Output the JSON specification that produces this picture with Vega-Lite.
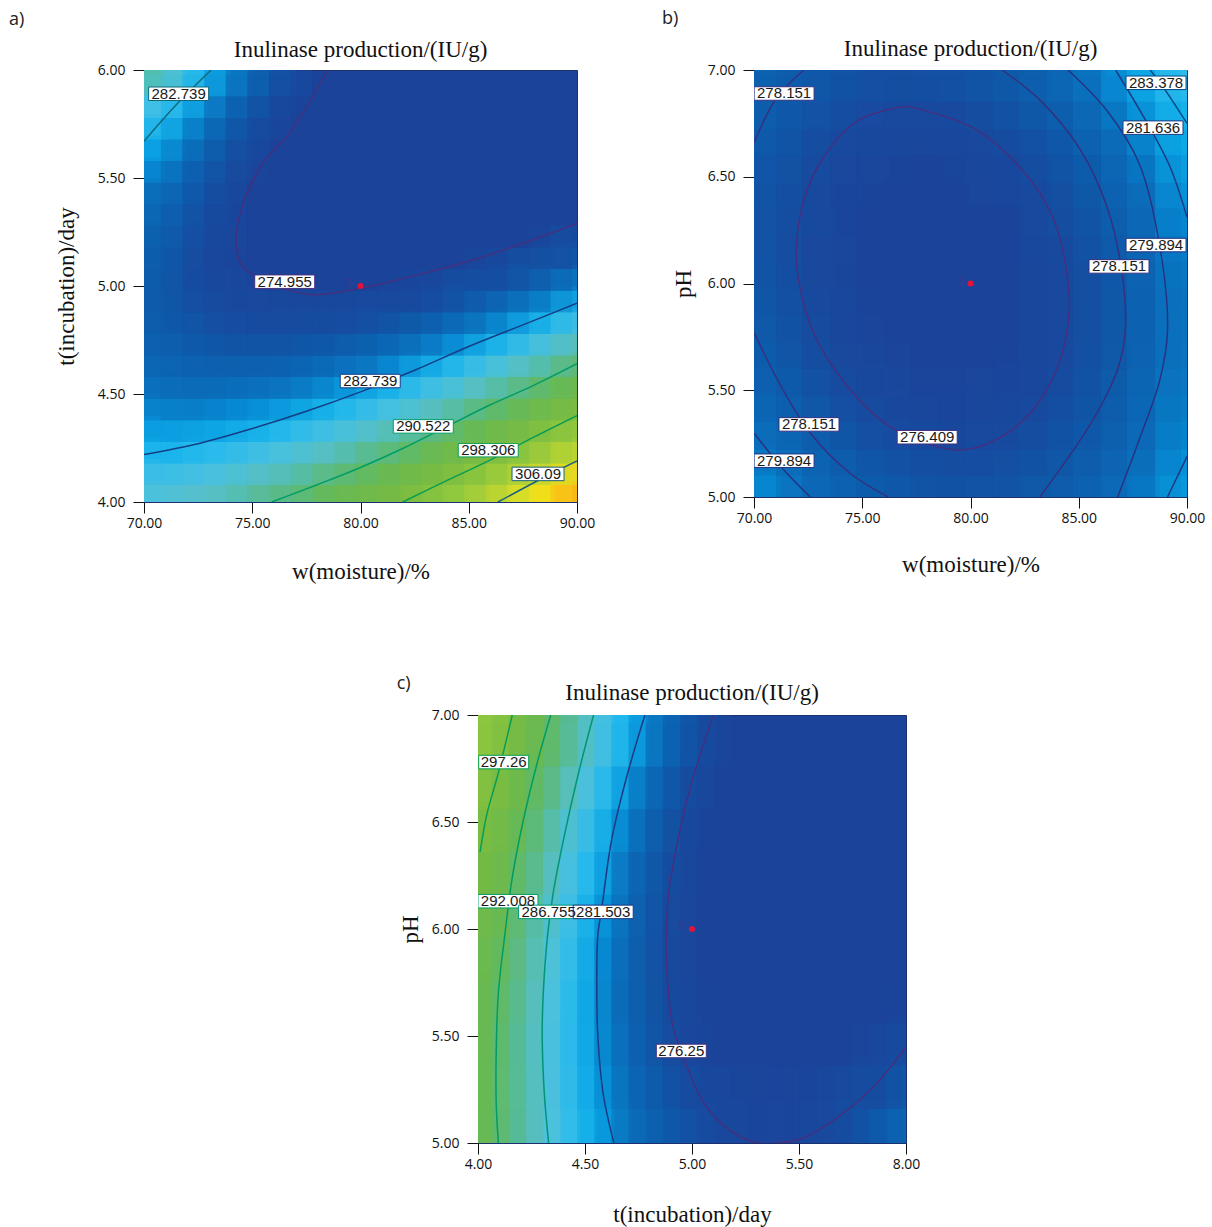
{"$schema":"https://vega.github.io/schema/vega-lite/v6.json","background":"white","padding":{"left":8,"top":9,"right":0,"bottom":0},"config":{"view":{"fill":"#1b4399","stroke":"#1c2f6e"},"axis":{"grid":false,"labelFont":"Open Sans","labelFontSize":14,"labelColor":"#111","labelPadding":3,"labelFlush":false,"tickColor":"#111","tickSize":11,"domainColor":"#1c2f6e","format":".2f","titleFont":"Liberation Serif","titleFontSize":23,"titleFontWeight":"normal","titleColor":"#111"},"axisY":{"labelPadding":8},"title":{"font":"Liberation Serif","fontSize":23,"fontWeight":"normal","color":"#111"}},
"datasets":{
"heatA":[
{"x":70.5,"y":4.05,"z":285.7},{"x":71.5,"y":4.05,"z":286.2},{"x":72.5,"y":4.05,"z":286.7},{"x":73.5,"y":4.05,"z":287.3},{"x":74.5,"y":4.05,"z":288.1},{"x":75.5,"y":4.05,"z":288.9},{"x":76.5,"y":4.05,"z":289.8},{"x":77.5,"y":4.05,"z":290.8},{"x":78.5,"y":4.05,"z":292},{"x":79.5,"y":4.05,"z":293.2},{"x":80.5,"y":4.05,"z":294.5},{"x":81.5,"y":4.05,"z":295.9},{"x":82.5,"y":4.05,"z":297.4},{"x":83.5,"y":4.05,"z":299},{"x":84.5,"y":4.05,"z":300.7},{"x":85.5,"y":4.05,"z":302.5},{"x":86.5,"y":4.05,"z":304.5},{"x":87.5,"y":4.05,"z":306.5},{"x":88.5,"y":4.05,"z":308.6},{"x":89.5,"y":4.05,"z":310.8},
{"x":70.5,"y":4.15,"z":284.1},{"x":71.5,"y":4.15,"z":284.4},{"x":72.5,"y":4.15,"z":284.8},{"x":73.5,"y":4.15,"z":285.3},{"x":74.5,"y":4.15,"z":285.9},{"x":75.5,"y":4.15,"z":286.6},{"x":76.5,"y":4.15,"z":287.4},{"x":77.5,"y":4.15,"z":288.3},{"x":78.5,"y":4.15,"z":289.3},{"x":79.5,"y":4.15,"z":290.4},{"x":80.5,"y":4.15,"z":291.6},{"x":81.5,"y":4.15,"z":292.9},{"x":82.5,"y":4.15,"z":294.3},{"x":83.5,"y":4.15,"z":295.8},{"x":84.5,"y":4.15,"z":297.4},{"x":85.5,"y":4.15,"z":299},{"x":86.5,"y":4.15,"z":300.8},{"x":87.5,"y":4.15,"z":302.7},{"x":88.5,"y":4.15,"z":304.7},{"x":89.5,"y":4.15,"z":306.7},
{"x":70.5,"y":4.25,"z":282.7},{"x":71.5,"y":4.25,"z":282.9},{"x":72.5,"y":4.25,"z":283.2},{"x":73.5,"y":4.25,"z":283.5},{"x":74.5,"y":4.25,"z":284},{"x":75.5,"y":4.25,"z":284.6},{"x":76.5,"y":4.25,"z":285.3},{"x":77.5,"y":4.25,"z":286},{"x":78.5,"y":4.25,"z":286.9},{"x":79.5,"y":4.25,"z":287.9},{"x":80.5,"y":4.25,"z":288.9},{"x":81.5,"y":4.25,"z":290.1},{"x":82.5,"y":4.25,"z":291.4},{"x":83.5,"y":4.25,"z":292.7},{"x":84.5,"y":4.25,"z":294.2},{"x":85.5,"y":4.25,"z":295.7},{"x":86.5,"y":4.25,"z":297.4},{"x":87.5,"y":4.25,"z":299.1},{"x":88.5,"y":4.25,"z":301},{"x":89.5,"y":4.25,"z":302.9},
{"x":70.5,"y":4.35,"z":281.4},{"x":71.5,"y":4.35,"z":281.5},{"x":72.5,"y":4.35,"z":281.7},{"x":73.5,"y":4.35,"z":281.9},{"x":74.5,"y":4.35,"z":282.3},{"x":75.5,"y":4.35,"z":282.7},{"x":76.5,"y":4.35,"z":283.3},{"x":77.5,"y":4.35,"z":283.9},{"x":78.5,"y":4.35,"z":284.6},{"x":79.5,"y":4.35,"z":285.5},{"x":80.5,"y":4.35,"z":286.4},{"x":81.5,"y":4.35,"z":287.5},{"x":82.5,"y":4.35,"z":288.6},{"x":83.5,"y":4.35,"z":289.8},{"x":84.5,"y":4.35,"z":291.2},{"x":85.5,"y":4.35,"z":292.6},{"x":86.5,"y":4.35,"z":294.1},{"x":87.5,"y":4.35,"z":295.7},{"x":88.5,"y":4.35,"z":297.5},{"x":89.5,"y":4.35,"z":299.3},
{"x":70.5,"y":4.45,"z":280.4},{"x":71.5,"y":4.45,"z":280.3},{"x":72.5,"y":4.45,"z":280.3},{"x":73.5,"y":4.45,"z":280.5},{"x":74.5,"y":4.45,"z":280.7},{"x":75.5,"y":4.45,"z":281},{"x":76.5,"y":4.45,"z":281.4},{"x":77.5,"y":4.45,"z":282},{"x":78.5,"y":4.45,"z":282.6},{"x":79.5,"y":4.45,"z":283.3},{"x":80.5,"y":4.45,"z":284.1},{"x":81.5,"y":4.45,"z":285},{"x":82.5,"y":4.45,"z":286},{"x":83.5,"y":4.45,"z":287.1},{"x":84.5,"y":4.45,"z":288.3},{"x":85.5,"y":4.45,"z":289.6},{"x":86.5,"y":4.45,"z":291},{"x":87.5,"y":4.45,"z":292.5},{"x":88.5,"y":4.45,"z":294.1},{"x":89.5,"y":4.45,"z":295.8},
{"x":70.5,"y":4.55,"z":279.5},{"x":71.5,"y":4.55,"z":279.3},{"x":72.5,"y":4.55,"z":279.2},{"x":73.5,"y":4.55,"z":279.2},{"x":74.5,"y":4.55,"z":279.3},{"x":75.5,"y":4.55,"z":279.5},{"x":76.5,"y":4.55,"z":279.8},{"x":77.5,"y":4.55,"z":280.2},{"x":78.5,"y":4.55,"z":280.7},{"x":79.5,"y":4.55,"z":281.3},{"x":80.5,"y":4.55,"z":282},{"x":81.5,"y":4.55,"z":282.8},{"x":82.5,"y":4.55,"z":283.7},{"x":83.5,"y":4.55,"z":284.6},{"x":84.5,"y":4.55,"z":285.7},{"x":85.5,"y":4.55,"z":286.9},{"x":86.5,"y":4.55,"z":288.2},{"x":87.5,"y":4.55,"z":289.5},{"x":88.5,"y":4.55,"z":291},{"x":89.5,"y":4.55,"z":292.6},
{"x":70.5,"y":4.65,"z":278.8},{"x":71.5,"y":4.65,"z":278.5},{"x":72.5,"y":4.65,"z":278.3},{"x":73.5,"y":4.65,"z":278.2},{"x":74.5,"y":4.65,"z":278.1},{"x":75.5,"y":4.65,"z":278.2},{"x":76.5,"y":4.65,"z":278.4},{"x":77.5,"y":4.65,"z":278.7},{"x":78.5,"y":4.65,"z":279},{"x":79.5,"y":4.65,"z":279.5},{"x":80.5,"y":4.65,"z":280},{"x":81.5,"y":4.65,"z":280.7},{"x":82.5,"y":4.65,"z":281.5},{"x":83.5,"y":4.65,"z":282.3},{"x":84.5,"y":4.65,"z":283.3},{"x":85.5,"y":4.65,"z":284.3},{"x":86.5,"y":4.65,"z":285.5},{"x":87.5,"y":4.65,"z":286.7},{"x":88.5,"y":4.65,"z":288},{"x":89.5,"y":4.65,"z":289.5},
{"x":70.5,"y":4.75,"z":278.3},{"x":71.5,"y":4.75,"z":277.9},{"x":72.5,"y":4.75,"z":277.5},{"x":73.5,"y":4.75,"z":277.3},{"x":74.5,"y":4.75,"z":277.1},{"x":75.5,"y":4.75,"z":277.1},{"x":76.5,"y":4.75,"z":277.1},{"x":77.5,"y":4.75,"z":277.3},{"x":78.5,"y":4.75,"z":277.5},{"x":79.5,"y":4.75,"z":277.8},{"x":80.5,"y":4.75,"z":278.3},{"x":81.5,"y":4.75,"z":278.8},{"x":82.5,"y":4.75,"z":279.4},{"x":83.5,"y":4.75,"z":280.2},{"x":84.5,"y":4.75,"z":281},{"x":85.5,"y":4.75,"z":281.9},{"x":86.5,"y":4.75,"z":282.9},{"x":87.5,"y":4.75,"z":284.1},{"x":88.5,"y":4.75,"z":285.3},{"x":89.5,"y":4.75,"z":286.6},
{"x":70.5,"y":4.85,"z":278},{"x":71.5,"y":4.85,"z":277.5},{"x":72.5,"y":4.85,"z":277},{"x":73.5,"y":4.85,"z":276.6},{"x":74.5,"y":4.85,"z":276.3},{"x":75.5,"y":4.85,"z":276.1},{"x":76.5,"y":4.85,"z":276.1},{"x":77.5,"y":4.85,"z":276.1},{"x":78.5,"y":4.85,"z":276.2},{"x":79.5,"y":4.85,"z":276.4},{"x":80.5,"y":4.85,"z":276.7},{"x":81.5,"y":4.85,"z":277.1},{"x":82.5,"y":4.85,"z":277.6},{"x":83.5,"y":4.85,"z":278.2},{"x":84.5,"y":4.85,"z":278.9},{"x":85.5,"y":4.85,"z":279.7},{"x":86.5,"y":4.85,"z":280.6},{"x":87.5,"y":4.85,"z":281.6},{"x":88.5,"y":4.85,"z":282.7},{"x":89.5,"y":4.85,"z":283.9},
{"x":70.5,"y":4.95,"z":277.9},{"x":71.5,"y":4.95,"z":277.2},{"x":72.5,"y":4.95,"z":276.6},{"x":73.5,"y":4.95,"z":276.1},{"x":74.5,"y":4.95,"z":275.7},{"x":81.5,"y":4.95,"z":275.6},{"x":82.5,"y":4.95,"z":276},{"x":83.5,"y":4.95,"z":276.4},{"x":84.5,"y":4.95,"z":277},{"x":85.5,"y":4.95,"z":277.7},{"x":86.5,"y":4.95,"z":278.5},{"x":87.5,"y":4.95,"z":279.3},{"x":88.5,"y":4.95,"z":280.3},{"x":89.5,"y":4.95,"z":281.4},
{"x":70.5,"y":5.05,"z":278},{"x":71.5,"y":5.05,"z":277.1},{"x":72.5,"y":5.05,"z":276.4},{"x":73.5,"y":5.05,"z":275.8},{"x":85.5,"y":5.05,"z":275.9},{"x":86.5,"y":5.05,"z":276.5},{"x":87.5,"y":5.05,"z":277.2},{"x":88.5,"y":5.05,"z":278.1},{"x":89.5,"y":5.05,"z":279},
{"x":70.5,"y":5.15,"z":278.2},{"x":71.5,"y":5.15,"z":277.3},{"x":72.5,"y":5.15,"z":276.4},{"x":73.5,"y":5.15,"z":275.6},{"x":88.5,"y":5.15,"z":276.1},{"x":89.5,"y":5.15,"z":276.9},
{"x":70.5,"y":5.25,"z":278.6},{"x":71.5,"y":5.25,"z":277.6},{"x":72.5,"y":5.25,"z":276.6},{"x":73.5,"y":5.25,"z":275.7},
{"x":70.5,"y":5.35,"z":279.2},{"x":71.5,"y":5.35,"z":278},{"x":72.5,"y":5.35,"z":276.9},{"x":73.5,"y":5.35,"z":275.9},
{"x":70.5,"y":5.45,"z":280},{"x":71.5,"y":5.45,"z":278.7},{"x":72.5,"y":5.45,"z":277.5},{"x":73.5,"y":5.45,"z":276.3},
{"x":70.5,"y":5.55,"z":281},{"x":71.5,"y":5.55,"z":279.6},{"x":72.5,"y":5.55,"z":278.2},{"x":73.5,"y":5.55,"z":277},{"x":74.5,"y":5.55,"z":275.8},
{"x":70.5,"y":5.65,"z":282.2},{"x":71.5,"y":5.65,"z":280.6},{"x":72.5,"y":5.65,"z":279.2},{"x":73.5,"y":5.65,"z":277.8},{"x":74.5,"y":5.65,"z":276.5},
{"x":70.5,"y":5.75,"z":283.6},{"x":71.5,"y":5.75,"z":281.9},{"x":72.5,"y":5.75,"z":280.3},{"x":73.5,"y":5.75,"z":278.8},{"x":74.5,"y":5.75,"z":277.3},{"x":75.5,"y":5.75,"z":276},
{"x":70.5,"y":5.85,"z":285.1},{"x":71.5,"y":5.85,"z":283.3},{"x":72.5,"y":5.85,"z":281.6},{"x":73.5,"y":5.85,"z":279.9},{"x":74.5,"y":5.85,"z":278.4},{"x":75.5,"y":5.85,"z":276.9},{"x":76.5,"y":5.85,"z":275.6},
{"x":70.5,"y":5.95,"z":288},{"x":71.5,"y":5.95,"z":285.5},{"x":72.5,"y":5.95,"z":283},{"x":73.5,"y":5.95,"z":281.3},{"x":74.5,"y":5.95,"z":279.6},{"x":75.5,"y":5.95,"z":278},{"x":76.5,"y":5.95,"z":276.6}
],
"lineA":[
{"seg":"a1","level":274.955,"x":78.5,"y":6},{"seg":"a1","level":274.955,"x":76.74,"y":5.71},{"seg":"a1","level":274.955,"x":75.5,"y":5.57},{"seg":"a1","level":274.955,"x":74.57,"y":5.38},{"seg":"a1","level":274.955,"x":74.25,"y":5.2},{"seg":"a1","level":274.955,"x":74.57,"y":5.09},{"seg":"a1","level":274.955,"x":76.4,"y":4.99},{"seg":"a1","level":274.955,"x":77.8,"y":4.96},{"seg":"a1","level":274.955,"x":80,"y":4.99},{"seg":"a1","level":274.955,"x":82.15,"y":5.04},{"seg":"a1","level":274.955,"x":85.5,"y":5.13},{"seg":"a1","level":274.955,"x":90,"y":5.29},
{"seg":"a2","level":285,"x":73.1,"y":6},{"seg":"a2","level":285,"x":71.5,"y":5.84},{"seg":"a2","level":285,"x":70,"y":5.67},
{"seg":"a3","level":282.739,"x":70,"y":4.22},{"seg":"a3","level":282.739,"x":72.5,"y":4.27},{"seg":"a3","level":282.739,"x":75,"y":4.34},{"seg":"a3","level":282.739,"x":77.5,"y":4.42},{"seg":"a3","level":282.739,"x":80,"y":4.51},{"seg":"a3","level":282.739,"x":82.5,"y":4.61},{"seg":"a3","level":282.739,"x":85,"y":4.72},{"seg":"a3","level":282.739,"x":87.5,"y":4.82},{"seg":"a3","level":282.739,"x":90,"y":4.92},
{"seg":"a4","level":290.522,"x":75.9,"y":4},{"seg":"a4","level":290.522,"x":78,"y":4.08},{"seg":"a4","level":290.522,"x":80,"y":4.16},{"seg":"a4","level":290.522,"x":82,"y":4.25},{"seg":"a4","level":290.522,"x":84,"y":4.35},{"seg":"a4","level":290.522,"x":86,"y":4.45},{"seg":"a4","level":290.522,"x":88,"y":4.54},{"seg":"a4","level":290.522,"x":90,"y":4.64},
{"seg":"a5","level":298.306,"x":81.95,"y":4},{"seg":"a5","level":298.306,"x":84,"y":4.1},{"seg":"a5","level":298.306,"x":86.1,"y":4.2},{"seg":"a5","level":298.306,"x":88,"y":4.3},{"seg":"a5","level":298.306,"x":90,"y":4.4},
{"seg":"a6","level":306.09,"x":86.35,"y":4},{"seg":"a6","level":306.09,"x":88.4,"y":4.11},{"seg":"a6","level":306.09,"x":90,"y":4.19}
],
"labelA":[{"t":"282.739","x":71.6,"y":5.89,"level":285},{"t":"274.955","x":76.5,"y":5.02,"level":274.955},{"t":"282.739","x":80.45,"y":4.56,"level":282.739},{"t":"290.522","x":82.9,"y":4.35,"level":290.522},{"t":"298.306","x":85.9,"y":4.24,"level":298.306},{"t":"306.09","x":88.2,"y":4.13,"level":306.09}],
"centerA":[{"x":80,"y":5}],
"noteA":[{"t":"a)","x":63.76,"y":6.23,"s":"letter"},{"t":"5","x":79.5,"y":5.01,"s":"count"}],
"heatB":[
{"x":70.6,"y":5.06,"z":280.8},{"x":71.9,"y":5.06,"z":279.85},{"x":73.1,"y":5.06,"z":279},{"x":74.4,"y":5.06,"z":278.4},{"x":75.6,"y":5.06,"z":277.8},{"x":76.9,"y":5.06,"z":277.5},{"x":78.1,"y":5.06,"z":277.2},{"x":79.4,"y":5.06,"z":277.1},{"x":80.6,"y":5.06,"z":277.2},{"x":81.9,"y":5.06,"z":277.3},{"x":83.1,"y":5.06,"z":277.7},{"x":84.4,"y":5.06,"z":278.1},{"x":85.6,"y":5.06,"z":278.7},{"x":86.9,"y":5.06,"z":279.5},{"x":88.1,"y":5.06,"z":280.4},{"x":89.4,"y":5.06,"z":281.4},
{"x":70.6,"y":5.19,"z":280.05},{"x":71.9,"y":5.19,"z":279.1},{"x":73.1,"y":5.19,"z":278.3},{"x":74.4,"y":5.19,"z":277.7},{"x":75.6,"y":5.19,"z":277.2},{"x":76.9,"y":5.19,"z":276.8},{"x":78.1,"y":5.19,"z":276.6},{"x":79.4,"y":5.19,"z":276.5},{"x":80.6,"y":5.19,"z":276.6},{"x":81.9,"y":5.19,"z":276.8},{"x":83.1,"y":5.19,"z":277.1},{"x":84.4,"y":5.19,"z":277.6},{"x":85.6,"y":5.19,"z":278.2},{"x":86.9,"y":5.19,"z":279},{"x":88.1,"y":5.19,"z":279.9},{"x":89.4,"y":5.19,"z":281},
{"x":70.6,"y":5.31,"z":279.4},{"x":71.9,"y":5.31,"z":278.5},{"x":73.1,"y":5.31,"z":277.7},{"x":74.4,"y":5.31,"z":277.1},{"x":75.6,"y":5.31,"z":276.6},{"x":76.9,"y":5.31,"z":276.3},{"x":78.1,"y":5.31,"z":276.05},{"x":79.4,"y":5.31,"z":276},{"x":80.6,"y":5.31,"z":276.1},{"x":81.9,"y":5.31,"z":276.3},{"x":83.1,"y":5.31,"z":276.7},{"x":84.4,"y":5.31,"z":277.2},{"x":85.6,"y":5.31,"z":277.8},{"x":86.9,"y":5.31,"z":278.6},{"x":88.1,"y":5.31,"z":279.55},{"x":89.4,"y":5.31,"z":280.6},
{"x":70.6,"y":5.44,"z":278.8},{"x":71.9,"y":5.44,"z":277.9},{"x":73.1,"y":5.44,"z":277.2},{"x":74.4,"y":5.44,"z":276.6},{"x":75.6,"y":5.44,"z":276.1},{"x":76.9,"y":5.44,"z":275.8},{"x":78.1,"y":5.44,"z":275.6},{"x":79.4,"y":5.44,"z":275.6},{"x":80.6,"y":5.44,"z":275.7},{"x":81.9,"y":5.44,"z":275.9},{"x":83.1,"y":5.44,"z":276.3},{"x":84.4,"y":5.44,"z":276.8},{"x":85.6,"y":5.44,"z":277.5},{"x":86.9,"y":5.44,"z":278.3},{"x":88.1,"y":5.44,"z":279.3},{"x":89.4,"y":5.44,"z":280.4},
{"x":70.6,"y":5.56,"z":278.3},{"x":71.9,"y":5.56,"z":277.5},{"x":73.1,"y":5.56,"z":276.7},{"x":74.4,"y":5.56,"z":276.2},{"x":75.6,"y":5.56,"z":275.7},{"x":81.9,"y":5.56,"z":275.6},{"x":83.1,"y":5.56,"z":276},{"x":84.4,"y":5.56,"z":276.6},{"x":85.6,"y":5.56,"z":277.25},{"x":86.9,"y":5.56,"z":278.1},{"x":88.1,"y":5.56,"z":279.1},{"x":89.4,"y":5.56,"z":280.2},
{"x":70.6,"y":5.69,"z":277.9},{"x":71.9,"y":5.69,"z":277.1},{"x":73.1,"y":5.69,"z":276.4},{"x":74.4,"y":5.69,"z":275.8},{"x":83.1,"y":5.69,"z":275.8},{"x":84.4,"y":5.69,"z":276.4},{"x":85.6,"y":5.69,"z":277.1},{"x":86.9,"y":5.69,"z":277.9},{"x":88.1,"y":5.69,"z":278.9},{"x":89.4,"y":5.69,"z":280.1},
{"x":70.6,"y":5.81,"z":277.6},{"x":71.9,"y":5.81,"z":276.8},{"x":73.1,"y":5.81,"z":276.1},{"x":74.4,"y":5.81,"z":275.6},{"x":83.1,"y":5.81,"z":275.7},{"x":84.4,"y":5.81,"z":276.3},{"x":85.6,"y":5.81,"z":277},{"x":86.9,"y":5.81,"z":277.9},{"x":88.1,"y":5.81,"z":278.9},{"x":89.4,"y":5.81,"z":280.1},
{"x":70.6,"y":5.94,"z":277.4},{"x":71.9,"y":5.94,"z":276.6},{"x":73.1,"y":5.94,"z":275.9},{"x":83.1,"y":5.94,"z":275.7},{"x":84.4,"y":5.94,"z":276.3},{"x":85.6,"y":5.94,"z":277},{"x":86.9,"y":5.94,"z":277.9},{"x":88.1,"y":5.94,"z":279},{"x":89.4,"y":5.94,"z":280.1},
{"x":70.6,"y":6.06,"z":277.2},{"x":71.9,"y":6.06,"z":276.5},{"x":73.1,"y":6.06,"z":275.8},{"x":83.1,"y":6.06,"z":275.7},{"x":84.4,"y":6.06,"z":276.4},{"x":85.6,"y":6.06,"z":277.1},{"x":86.9,"y":6.06,"z":278},{"x":88.1,"y":6.06,"z":279.1},{"x":89.4,"y":6.06,"z":280.3},
{"x":70.6,"y":6.19,"z":277.2},{"x":71.9,"y":6.19,"z":276.4},{"x":73.1,"y":6.19,"z":275.8},{"x":83.1,"y":6.19,"z":275.9},{"x":84.4,"y":6.19,"z":276.5},{"x":85.6,"y":6.19,"z":277.3},{"x":86.9,"y":6.19,"z":278.25},{"x":88.1,"y":6.19,"z":279.3},{"x":89.4,"y":6.19,"z":280.5},
{"x":70.6,"y":6.31,"z":277.2},{"x":71.9,"y":6.31,"z":276.5},{"x":73.1,"y":6.31,"z":275.9},{"x":83.1,"y":6.31,"z":276.1},{"x":84.4,"y":6.31,"z":276.8},{"x":85.6,"y":6.31,"z":277.6},{"x":86.9,"y":6.31,"z":278.5},{"x":88.1,"y":6.31,"z":279.6},{"x":89.4,"y":6.31,"z":280.9},
{"x":70.6,"y":6.44,"z":277.3},{"x":71.9,"y":6.44,"z":276.6},{"x":73.1,"y":6.44,"z":276},{"x":74.4,"y":6.44,"z":275.6},{"x":80.6,"y":6.44,"z":275.5},{"x":81.9,"y":6.44,"z":275.9},{"x":83.1,"y":6.44,"z":276.4},{"x":84.4,"y":6.44,"z":277.1},{"x":85.6,"y":6.44,"z":277.9},{"x":86.9,"y":6.44,"z":278.9},{"x":88.1,"y":6.44,"z":280},{"x":89.4,"y":6.44,"z":281.3},
{"x":70.6,"y":6.56,"z":277.5},{"x":71.9,"y":6.56,"z":276.8},{"x":73.1,"y":6.56,"z":276.25},{"x":74.4,"y":6.56,"z":275.8},{"x":75.6,"y":6.56,"z":275.5},{"x":79.4,"y":6.56,"z":275.55},{"x":80.6,"y":6.56,"z":275.8},{"x":81.9,"y":6.56,"z":276.25},{"x":83.1,"y":6.56,"z":276.8},{"x":84.4,"y":6.56,"z":277.5},{"x":85.6,"y":6.56,"z":278.4},{"x":86.9,"y":6.56,"z":279.4},{"x":88.1,"y":6.56,"z":280.5},{"x":89.4,"y":6.56,"z":281.8},
{"x":70.6,"y":6.69,"z":277.8},{"x":71.9,"y":6.69,"z":277.1},{"x":73.1,"y":6.69,"z":276.6},{"x":74.4,"y":6.69,"z":276.2},{"x":75.6,"y":6.69,"z":275.9},{"x":76.9,"y":6.69,"z":275.8},{"x":78.1,"y":6.69,"z":275.8},{"x":79.4,"y":6.69,"z":276},{"x":80.6,"y":6.69,"z":276.3},{"x":81.9,"y":6.69,"z":276.7},{"x":83.1,"y":6.69,"z":277.3},{"x":84.4,"y":6.69,"z":278},{"x":85.6,"y":6.69,"z":278.9},{"x":86.9,"y":6.69,"z":279.9},{"x":88.1,"y":6.69,"z":281.1},{"x":89.4,"y":6.69,"z":282.4},
{"x":70.6,"y":6.81,"z":278.2},{"x":71.9,"y":6.81,"z":277.5},{"x":73.1,"y":6.81,"z":277},{"x":74.4,"y":6.81,"z":276.6},{"x":75.6,"y":6.81,"z":276.35},{"x":76.9,"y":6.81,"z":276.25},{"x":78.1,"y":6.81,"z":276.3},{"x":79.4,"y":6.81,"z":276.5},{"x":80.6,"y":6.81,"z":276.8},{"x":81.9,"y":6.81,"z":277.3},{"x":83.1,"y":6.81,"z":277.9},{"x":84.4,"y":6.81,"z":278.6},{"x":85.6,"y":6.81,"z":279.5},{"x":86.9,"y":6.81,"z":280.6},{"x":88.1,"y":6.81,"z":281.7},{"x":89.4,"y":6.81,"z":283},
{"x":70.6,"y":6.94,"z":278.6},{"x":71.9,"y":6.94,"z":278},{"x":73.1,"y":6.94,"z":277.5},{"x":74.4,"y":6.94,"z":277.1},{"x":75.6,"y":6.94,"z":276.9},{"x":76.9,"y":6.94,"z":276.8},{"x":78.1,"y":6.94,"z":276.9},{"x":79.4,"y":6.94,"z":277.1},{"x":80.6,"y":6.94,"z":277.4},{"x":81.9,"y":6.94,"z":277.9},{"x":83.1,"y":6.94,"z":278.5},{"x":84.4,"y":6.94,"z":279.3},{"x":85.6,"y":6.94,"z":280.2},{"x":86.9,"y":6.94,"z":281.3},{"x":88.1,"y":6.94,"z":282.5},{"x":89.4,"y":6.94,"z":283.8}
],
"lineB":[
{"seg":"b1","level":276.409,"x":77.1,"y":6.83},{"seg":"b1","level":276.409,"x":80.1,"y":6.73},{"seg":"b1","level":276.409,"x":82.4,"y":6.53},{"seg":"b1","level":276.409,"x":83.8,"y":6.31},{"seg":"b1","level":276.409,"x":84.45,"y":6.05},{"seg":"b1","level":276.409,"x":84.55,"y":5.86},{"seg":"b1","level":276.409,"x":84.1,"y":5.63},{"seg":"b1","level":276.409,"x":82.9,"y":5.41},{"seg":"b1","level":276.409,"x":81.4,"y":5.28},{"seg":"b1","level":276.409,"x":79.65,"y":5.22},{"seg":"b1","level":276.409,"x":78,"y":5.25},{"seg":"b1","level":276.409,"x":76,"y":5.35},{"seg":"b1","level":276.409,"x":74,"y":5.56},{"seg":"b1","level":276.409,"x":72.7,"y":5.78},{"seg":"b1","level":276.409,"x":72.05,"y":6.02},{"seg":"b1","level":276.409,"x":71.95,"y":6.16},{"seg":"b1","level":276.409,"x":72.3,"y":6.39},{"seg":"b1","level":276.409,"x":73.2,"y":6.59},{"seg":"b1","level":276.409,"x":74.75,"y":6.76},{"seg":"b1","level":276.409,"x":76,"y":6.81},{"seg":"b1","level":276.409,"x":77.1,"y":6.83},
{"seg":"b2","level":278.151,"x":81.45,"y":7},{"seg":"b2","level":278.151,"x":83.2,"y":6.86},{"seg":"b2","level":278.151,"x":85.05,"y":6.63},{"seg":"b2","level":278.151,"x":86.3,"y":6.36},{"seg":"b2","level":278.151,"x":87,"y":6.05},{"seg":"b2","level":278.151,"x":87.15,"y":5.78},{"seg":"b2","level":278.151,"x":86.8,"y":5.6},{"seg":"b2","level":278.151,"x":85.65,"y":5.36},{"seg":"b2","level":278.151,"x":83.2,"y":5},
{"seg":"b3","level":278.151,"x":76.2,"y":5},{"seg":"b3","level":278.151,"x":74.45,"y":5.11},{"seg":"b3","level":278.151,"x":72.6,"y":5.3},{"seg":"b3","level":278.151,"x":71.35,"y":5.5},{"seg":"b3","level":278.151,"x":70,"y":5.77},
{"seg":"b4","level":278.151,"x":72.3,"y":7},{"seg":"b4","level":278.151,"x":71.05,"y":6.87},{"seg":"b4","level":278.151,"x":70,"y":6.66},
{"seg":"b5","level":279.894,"x":84.5,"y":7},{"seg":"b5","level":279.894,"x":86.3,"y":6.81},{"seg":"b5","level":279.894,"x":87.8,"y":6.56},{"seg":"b5","level":279.894,"x":88.75,"y":6.17},{"seg":"b5","level":279.894,"x":89.1,"y":5.78},{"seg":"b5","level":279.894,"x":88.75,"y":5.55},{"seg":"b5","level":279.894,"x":87.8,"y":5.27},{"seg":"b5","level":279.894,"x":86.8,"y":5},
{"seg":"b6","level":279.894,"x":70,"y":5.3},{"seg":"b6","level":279.894,"x":71.35,"y":5.13},{"seg":"b6","level":279.894,"x":72.6,"y":5},
{"seg":"b7","level":281.636,"x":86.7,"y":7},{"seg":"b7","level":281.636,"x":88,"y":6.78},{"seg":"b7","level":281.636,"x":89.2,"y":6.55},{"seg":"b7","level":281.636,"x":90,"y":6.31},
{"seg":"b8","level":281.636,"x":90,"y":5.19},{"seg":"b8","level":281.636,"x":89.1,"y":5},
{"seg":"b9","level":283.378,"x":88.3,"y":7},{"seg":"b9","level":283.378,"x":88.9,"y":6.92},{"seg":"b9","level":283.378,"x":90,"y":6.75}
],
"labelB":[{"t":"278.151","x":71.39,"y":6.89,"level":278.151},{"t":"283.378","x":88.57,"y":6.94,"level":283.378},{"t":"281.636","x":88.43,"y":6.73,"level":281.636},{"t":"279.894","x":88.57,"y":6.18,"level":279.894},{"t":"278.151","x":86.86,"y":6.08,"level":278.151},{"t":"278.151","x":72.54,"y":5.34,"level":278.151},{"t":"276.409","x":78,"y":5.28,"level":276.409},{"t":"279.894","x":71.39,"y":5.17,"level":279.894}],
"centerB":[{"x":80,"y":6}],
"noteB":[{"t":"b)","x":65.75,"y":7.24,"s":"letter"},{"t":"5","x":79.55,"y":6.01,"s":"count"}],
"heatC":[
{"x":4.04,"y":5.1,"z":292.25},{"x":4.12,"y":5.1,"z":290.3},{"x":4.2,"y":5.1,"z":288.5},{"x":4.28,"y":5.1,"z":286.8},{"x":4.36,"y":5.1,"z":285.2},{"x":4.44,"y":5.1,"z":283.7},{"x":4.52,"y":5.1,"z":282.4},{"x":4.6,"y":5.1,"z":281.2},{"x":4.68,"y":5.1,"z":280.1},{"x":4.76,"y":5.1,"z":279.1},{"x":4.84,"y":5.1,"z":278.2},{"x":4.92,"y":5.1,"z":277.5},{"x":5,"y":5.1,"z":276.85},{"x":5.08,"y":5.1,"z":276.35},{"x":5.16,"y":5.1,"z":276},{"x":5.24,"y":5.1,"z":275.7},{"x":5.32,"y":5.1,"z":275.6},{"x":5.4,"y":5.1,"z":275.5},{"x":5.48,"y":5.1,"z":275.65},{"x":5.56,"y":5.1,"z":275.9},{"x":5.64,"y":5.1,"z":276.2},{"x":5.72,"y":5.1,"z":276.7},{"x":5.8,"y":5.1,"z":277.25},{"x":5.88,"y":5.1,"z":277.95},{"x":5.96,"y":5.1,"z":278.8},
{"x":4.04,"y":5.3,"z":292.25},{"x":4.12,"y":5.3,"z":290.2},{"x":4.2,"y":5.3,"z":288.35},{"x":4.28,"y":5.3,"z":286.6},{"x":4.36,"y":5.3,"z":284.9},{"x":4.44,"y":5.3,"z":283.4},{"x":4.52,"y":5.3,"z":282},{"x":4.6,"y":5.3,"z":280.7},{"x":4.68,"y":5.3,"z":279.5},{"x":4.76,"y":5.3,"z":278.45},{"x":4.84,"y":5.3,"z":277.5},{"x":4.92,"y":5.3,"z":276.7},{"x":5,"y":5.3,"z":276},{"x":5.8,"y":5.3,"z":275.7},{"x":5.88,"y":5.3,"z":276.3},{"x":5.96,"y":5.3,"z":277.1},
{"x":4.04,"y":5.5,"z":292.5},{"x":4.12,"y":5.5,"z":290.4},{"x":4.2,"y":5.5,"z":288.4},{"x":4.28,"y":5.5,"z":286.6},{"x":4.36,"y":5.5,"z":284.9},{"x":4.44,"y":5.5,"z":283.3},{"x":4.52,"y":5.5,"z":281.8},{"x":4.6,"y":5.5,"z":280.4},{"x":4.68,"y":5.5,"z":279.2},{"x":4.76,"y":5.5,"z":278},{"x":4.84,"y":5.5,"z":277},{"x":4.92,"y":5.5,"z":276.15},{"x":5,"y":5.5,"z":275.5},{"x":5.96,"y":5.5,"z":275.6},
{"x":4.04,"y":5.7,"z":292.9},{"x":4.12,"y":5.7,"z":290.8},{"x":4.2,"y":5.7,"z":288.7},{"x":4.28,"y":5.7,"z":286.8},{"x":4.36,"y":5.7,"z":285},{"x":4.44,"y":5.7,"z":283.3},{"x":4.52,"y":5.7,"z":281.8},{"x":4.6,"y":5.7,"z":280.35},{"x":4.68,"y":5.7,"z":279},{"x":4.76,"y":5.7,"z":277.85},{"x":4.84,"y":5.7,"z":276.8},{"x":4.92,"y":5.7,"z":275.8},
{"x":4.04,"y":5.9,"z":293.6},{"x":4.12,"y":5.9,"z":291.4},{"x":4.2,"y":5.9,"z":289.25},{"x":4.28,"y":5.9,"z":287.3},{"x":4.36,"y":5.9,"z":285.4},{"x":4.44,"y":5.9,"z":283.7},{"x":4.52,"y":5.9,"z":282},{"x":4.6,"y":5.9,"z":280.5},{"x":4.68,"y":5.9,"z":279.1},{"x":4.76,"y":5.9,"z":277.9},{"x":4.84,"y":5.9,"z":276.7},{"x":4.92,"y":5.9,"z":275.7},
{"x":4.04,"y":6.1,"z":294.5},{"x":4.12,"y":6.1,"z":292.2},{"x":4.2,"y":6.1,"z":290},{"x":4.28,"y":6.1,"z":287.9},{"x":4.36,"y":6.1,"z":286},{"x":4.44,"y":6.1,"z":284.2},{"x":4.52,"y":6.1,"z":282.5},{"x":4.6,"y":6.1,"z":280.9},{"x":4.68,"y":6.1,"z":279.5},{"x":4.76,"y":6.1,"z":278.1},{"x":4.84,"y":6.1,"z":276.9},{"x":4.92,"y":6.1,"z":275.8},
{"x":4.04,"y":6.3,"z":295.55},{"x":4.12,"y":6.3,"z":293.2},{"x":4.2,"y":6.3,"z":290.9},{"x":4.28,"y":6.3,"z":288.8},{"x":4.36,"y":6.3,"z":286.8},{"x":4.44,"y":6.3,"z":284.9},{"x":4.52,"y":6.3,"z":283.2},{"x":4.6,"y":6.3,"z":281.5},{"x":4.68,"y":6.3,"z":280},{"x":4.76,"y":6.3,"z":278.6},{"x":4.84,"y":6.3,"z":277.3},{"x":4.92,"y":6.3,"z":276.1},
{"x":4.04,"y":6.5,"z":296.9},{"x":4.12,"y":6.5,"z":294.4},{"x":4.2,"y":6.5,"z":292.1},{"x":4.28,"y":6.5,"z":289.9},{"x":4.36,"y":6.5,"z":287.85},{"x":4.44,"y":6.5,"z":285.9},{"x":4.52,"y":6.5,"z":284.1},{"x":4.6,"y":6.5,"z":282.3},{"x":4.68,"y":6.5,"z":280.7},{"x":4.76,"y":6.5,"z":279.3},{"x":4.84,"y":6.5,"z":277.9},{"x":4.92,"y":6.5,"z":276.7},{"x":5,"y":6.5,"z":275.6},
{"x":4.04,"y":6.7,"z":298.4},{"x":4.12,"y":6.7,"z":295.9},{"x":4.2,"y":6.7,"z":293.5},{"x":4.28,"y":6.7,"z":291.2},{"x":4.36,"y":6.7,"z":289.1},{"x":4.44,"y":6.7,"z":287.1},{"x":4.52,"y":6.7,"z":285.2},{"x":4.6,"y":6.7,"z":283.4},{"x":4.68,"y":6.7,"z":281.7},{"x":4.76,"y":6.7,"z":280.2},{"x":4.84,"y":6.7,"z":278.7},{"x":4.92,"y":6.7,"z":277.4},{"x":5,"y":6.7,"z":276.25},
{"x":4.04,"y":6.9,"z":300.1},{"x":4.12,"y":6.9,"z":297.6},{"x":4.2,"y":6.9,"z":295.1},{"x":4.28,"y":6.9,"z":292.8},{"x":4.36,"y":6.9,"z":290.6},{"x":4.44,"y":6.9,"z":288.5},{"x":4.52,"y":6.9,"z":286.5},{"x":4.6,"y":6.9,"z":284.6},{"x":4.68,"y":6.9,"z":282.9},{"x":4.76,"y":6.9,"z":281.3},{"x":4.84,"y":6.9,"z":279.8},{"x":4.92,"y":6.9,"z":278.4},{"x":5,"y":6.9,"z":277.15},{"x":5.08,"y":6.9,"z":276}
],
"lineC":[
{"seg":"c1","level":276.25,"x":5.1,"y":7},{"seg":"c1","level":276.25,"x":5,"y":6.69},{"seg":"c1","level":276.25,"x":4.935,"y":6.42},{"seg":"c1","level":276.25,"x":4.89,"y":6.16},{"seg":"c1","level":276.25,"x":4.88,"y":5.97},{"seg":"c1","level":276.25,"x":4.88,"y":5.86},{"seg":"c1","level":276.25,"x":4.91,"y":5.55},{"seg":"c1","level":276.25,"x":4.96,"y":5.4},{"seg":"c1","level":276.25,"x":5.06,"y":5.18},{"seg":"c1","level":276.25,"x":5.19,"y":5.05},{"seg":"c1","level":276.25,"x":5.31,"y":5},{"seg":"c1","level":276.25,"x":5.39,"y":5},{"seg":"c1","level":276.25,"x":5.51,"y":5.02},{"seg":"c1","level":276.25,"x":5.68,"y":5.12},{"seg":"c1","level":276.25,"x":5.855,"y":5.27},{"seg":"c1","level":276.25,"x":6,"y":5.45},
{"seg":"c2","level":281.503,"x":4.78,"y":7},{"seg":"c2","level":281.503,"x":4.7,"y":6.73},{"seg":"c2","level":281.503,"x":4.625,"y":6.42},{"seg":"c2","level":281.503,"x":4.58,"y":6.11},{"seg":"c2","level":281.503,"x":4.56,"y":5.97},{"seg":"c2","level":281.503,"x":4.555,"y":5.77},{"seg":"c2","level":281.503,"x":4.56,"y":5.5},{"seg":"c2","level":281.503,"x":4.585,"y":5.23},{"seg":"c2","level":281.503,"x":4.635,"y":5},
{"seg":"c3","level":286.755,"x":4.54,"y":7},{"seg":"c3","level":286.755,"x":4.47,"y":6.73},{"seg":"c3","level":286.755,"x":4.4,"y":6.42},{"seg":"c3","level":286.755,"x":4.35,"y":6.16},{"seg":"c3","level":286.755,"x":4.325,"y":5.97},{"seg":"c3","level":286.755,"x":4.305,"y":5.7},{"seg":"c3","level":286.755,"x":4.3,"y":5.5},{"seg":"c3","level":286.755,"x":4.31,"y":5.23},{"seg":"c3","level":286.755,"x":4.33,"y":5},
{"seg":"c4","level":292.008,"x":4.34,"y":7},{"seg":"c4","level":292.008,"x":4.275,"y":6.77},{"seg":"c4","level":292.008,"x":4.21,"y":6.5},{"seg":"c4","level":292.008,"x":4.16,"y":6.24},{"seg":"c4","level":292.008,"x":4.125,"y":5.97},{"seg":"c4","level":292.008,"x":4.095,"y":5.7},{"seg":"c4","level":292.008,"x":4.085,"y":5.42},{"seg":"c4","level":292.008,"x":4.085,"y":5.19},{"seg":"c4","level":292.008,"x":4.095,"y":5},
{"seg":"c5","level":297.26,"x":4.16,"y":7},{"seg":"c5","level":297.26,"x":4.095,"y":6.73},{"seg":"c5","level":297.26,"x":4.04,"y":6.53},{"seg":"c5","level":297.26,"x":4.01,"y":6.36}
],
"labelC":[{"t":"297.26","x":4.12,"y":6.78,"level":297.26},{"t":"292.008","x":4.14,"y":6.13,"level":292.008},{"t":"286.755","x":4.33,"y":6.08,"level":286.755},{"t":"281.503","x":4.585,"y":6.08,"level":281.503},{"t":"276.25","x":4.95,"y":5.43,"level":276.25}],
"centerC":[{"x":5,"y":6}],
"noteC":[{"t":"c)","x":3.62,"y":7.145,"s":"letter"},{"t":"5","x":4.95,"y":6.01,"s":"count"}]
},
"spacing":90,
"vconcat":[
{"spacing":65,"hconcat":[
{"width":433,"height":432,"title":{"text":"Inulinase production/(IU/g)","offset":-51},
"encoding":{"x":{"field":"x","type":"quantitative","scale":{"domain":[70,90],"nice":false,"zero":false},"axis":{"values":[70,75,80,85,90],"title":"w(moisture)/%","titlePadding":30}},"y":{"field":"y","type":"quantitative","scale":{"domain":[4,6],"nice":false,"zero":false},"axis":{"values":[4,4.5,5,5.5,6],"title":"t(incubation)/day","titlePadding":19}}},
"layer":[
{"data":{"name":"heatA"},"mark":{"type":"rect","width":22.6,"height":22.6,"clip":true},"encoding":{"fill":{"field":"z","type":"quantitative","legend":null,"scale":{"domain":[275,276.4,278,280,281.5,283,285,287,289,292,296,300,304,308,312],"range":["#1b4399","#174a9f","#0d5cab","#0b70bd","#0a9ade","#17b6ee","#46c1e6","#5bbfc8","#5cba90","#66b955","#76ba42","#8cc63f","#b9d433","#f6e71d","#f6a61c"]}}}},
{"data":{"name":"heatA"},"mark":{"type":"rect","width":43,"height":43,"opacity":0.5,"xOffset":6,"yOffset":-6,"clip":true},"encoding":{"fill":{"field":"z","type":"quantitative","legend":null}}},
{"data":{"name":"lineA"},"mark":{"type":"line","clip":true,"interpolate":"catmull-rom","strokeWidth":1.5},"encoding":{"detail":{"field":"seg"},"order":{"value":null},"stroke":{"field":"level","type":"quantitative","legend":null,"scale":{"domain":[275,276.5,279,283,285,287,298,302,306.09],"range":["#45307f","#45307f","#2a3180","#123f85","#116a7a","#0a9a70","#0a9e50","#0f9060","#1d5f7e"]}}}},
{"data":{"name":"labelA"},"transform":[{"filter":"length(datum.t)==7"}],"mark":{"type":"rect","width":60,"height":13.5,"fill":"white","clip":true},"encoding":{"stroke":{"field":"level","type":"quantitative","legend":null}}},
{"data":{"name":"labelA"},"transform":[{"filter":"length(datum.t)==6"}],"mark":{"type":"rect","width":52,"height":13.5,"fill":"white","clip":true},"encoding":{"stroke":{"field":"level","type":"quantitative","legend":null}}},
{"data":{"name":"labelA"},"mark":{"type":"text","font":"Liberation Sans","fontSize":15,"color":"#1a1a1a","clip":true},"encoding":{"text":{"field":"t"}}},
{"data":{"name":"centerA"},"mark":{"type":"circle","size":36,"color":"#e5123a","opacity":1}},
{"data":{"name":"noteA"},"transform":[{"filter":"datum.s=='count'"}],"mark":{"type":"text","font":"Liberation Sans","fontSize":10,"color":"#3f3a8a"},"encoding":{"text":{"field":"t"}}},
{"data":{"name":"noteA"},"transform":[{"filter":"datum.s=='letter'"}],"mark":{"type":"text","font":"Open Sans","fontSize":18,"color":"#222","align":"left"},"encoding":{"text":{"field":"t"}}}
]},
{"width":433,"height":427,"title":{"text":"Inulinase production/(IU/g)","offset":-51},
"encoding":{"x":{"field":"x","type":"quantitative","scale":{"domain":[70,90],"nice":false,"zero":false},"axis":{"values":[70,75,80,85,90],"title":"w(moisture)/%","titlePadding":28}},"y":{"field":"y","type":"quantitative","scale":{"domain":[5,7],"nice":false,"zero":false},"axis":{"values":[5,5.5,6,6.5,7],"title":"pH","titlePadding":12}}},
"layer":[
{"data":{"name":"heatB"},"mark":{"type":"rect","width":28.5,"height":28,"clip":true},"encoding":{"fill":{"field":"z","type":"quantitative","legend":null,"scale":{"domain":[275,276.4,278,280,281.5,283,285,287,289,292,296,300,304,308,312],"range":["#1b4399","#174a9f","#0d5cab","#0b70bd","#0a9ade","#17b6ee","#46c1e6","#5bbfc8","#5cba90","#66b955","#76ba42","#8cc63f","#b9d433","#f6e71d","#f6a61c"]}}}},
{"data":{"name":"heatB"},"mark":{"type":"rect","width":54,"height":54,"opacity":0.5,"xOffset":8,"yOffset":-8,"clip":true},"encoding":{"fill":{"field":"z","type":"quantitative","legend":null}}},
{"data":{"name":"lineB"},"mark":{"type":"line","clip":true,"interpolate":"catmull-rom","strokeWidth":1.5},"encoding":{"detail":{"field":"seg"},"order":{"value":null},"stroke":{"field":"level","type":"quantitative","legend":null,"scale":{"domain":[275,276.5,279,283,285,287,298,302,306.09],"range":["#45307f","#45307f","#2a3180","#123f85","#116a7a","#0a9a70","#0a9e50","#0f9060","#1d5f7e"]}}}},
{"data":{"name":"labelB"},"mark":{"type":"rect","width":60,"height":13.5,"fill":"white","clip":true},"encoding":{"stroke":{"field":"level","type":"quantitative","legend":null}}},
{"data":{"name":"labelB"},"mark":{"type":"text","font":"Liberation Sans","fontSize":15,"color":"#1a1a1a","clip":true},"encoding":{"text":{"field":"t"}}},
{"data":{"name":"centerB"},"mark":{"type":"circle","size":36,"color":"#e5123a","opacity":1}},
{"data":{"name":"noteB"},"transform":[{"filter":"datum.s=='count'"}],"mark":{"type":"text","font":"Liberation Sans","fontSize":10,"color":"#3f3a8a"},"encoding":{"text":{"field":"t"}}},
{"data":{"name":"noteB"},"transform":[{"filter":"datum.s=='letter'"}],"mark":{"type":"text","font":"Open Sans","fontSize":18,"color":"#222","align":"left"},"encoding":{"text":{"field":"t"}}}
]}
]},
{"spacing":0,"hconcat":[
{"width":252,"height":10,"view":{"fill":null,"stroke":null},"data":{"values":[{"x":0}]},"mark":{"type":"point","opacity":0},"encoding":{}},
{"width":428,"height":428,"title":{"text":"Inulinase production/(IU/g)","offset":-30},
"encoding":{"x":{"field":"x","type":"quantitative","scale":{"domain":[4,6],"nice":false,"zero":false},"axis":{"values":[4,4.5,5,5.5,6],"labelExpr":"datum.value==6?'8.00':format(datum.value,'.2f')","title":"t(incubation)/day","titlePadding":32}},"y":{"field":"y","type":"quantitative","scale":{"domain":[5,7],"nice":false,"zero":false},"axis":{"values":[5,5.5,6,6.5,7],"title":"pH","titlePadding":9}}},
"layer":[
{"data":{"name":"heatC"},"mark":{"type":"rect","width":18.2,"height":44,"clip":true},"encoding":{"fill":{"field":"z","type":"quantitative","legend":null,"scale":{"domain":[275,276.4,278,280,281.5,283,285,287,289,292,296,300,304,308,312],"range":["#1b4399","#174a9f","#0d5cab","#0b70bd","#0a9ade","#17b6ee","#46c1e6","#5bbfc8","#5cba90","#66b955","#76ba42","#8cc63f","#b9d433","#f6e71d","#f6a61c"]}}}},
{"data":{"name":"heatC"},"mark":{"type":"rect","width":34,"height":86,"opacity":0.5,"xOffset":5,"yOffset":-13,"clip":true},"encoding":{"fill":{"field":"z","type":"quantitative","legend":null}}},
{"data":{"name":"lineC"},"mark":{"type":"line","clip":true,"interpolate":"catmull-rom","strokeWidth":1.5},"encoding":{"detail":{"field":"seg"},"order":{"value":null},"stroke":{"field":"level","type":"quantitative","legend":null,"scale":{"domain":[275,276.5,279,283,285,287,298,302,306.09],"range":["#45307f","#45307f","#2a3180","#123f85","#116a7a","#0a9a70","#0a9e50","#0f9060","#1d5f7e"]}}}},
{"data":{"name":"labelC"},"transform":[{"filter":"length(datum.t)==7"}],"mark":{"type":"rect","width":60,"height":13.5,"fill":"white","clip":true},"encoding":{"stroke":{"field":"level","type":"quantitative","legend":null}}},
{"data":{"name":"labelC"},"transform":[{"filter":"length(datum.t)==6"}],"mark":{"type":"rect","width":50,"height":13.5,"fill":"white","clip":true},"encoding":{"stroke":{"field":"level","type":"quantitative","legend":null}}},
{"data":{"name":"labelC"},"mark":{"type":"text","font":"Liberation Sans","fontSize":15,"color":"#1a1a1a","clip":true},"encoding":{"text":{"field":"t"}}},
{"data":{"name":"centerC"},"mark":{"type":"circle","size":36,"color":"#e5123a","opacity":1}},
{"data":{"name":"noteC"},"transform":[{"filter":"datum.s=='count'"}],"mark":{"type":"text","font":"Liberation Sans","fontSize":10,"color":"#3f3a8a"},"encoding":{"text":{"field":"t"}}},
{"data":{"name":"noteC"},"transform":[{"filter":"datum.s=='letter'"}],"mark":{"type":"text","font":"Open Sans","fontSize":18,"color":"#222","align":"left"},"encoding":{"text":{"field":"t"}}}
]}
]}
]}
